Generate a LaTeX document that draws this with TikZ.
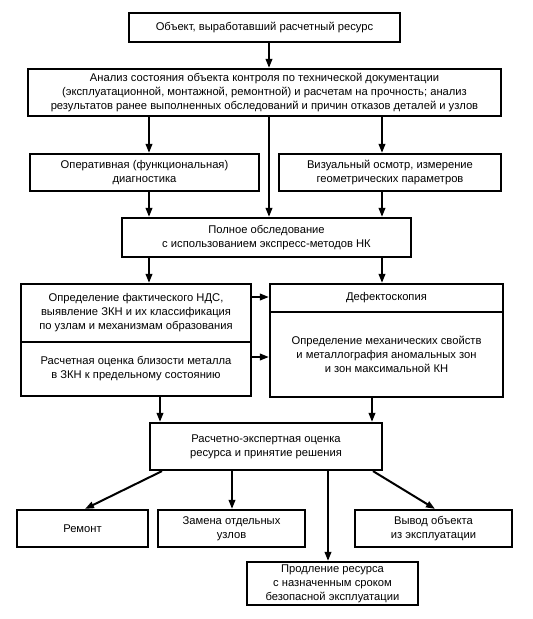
\documentclass[tikz,border=0pt]{standalone}
\usepackage{fontspec}
\setmainfont{Liberation Sans}
\usetikzlibrary{arrows.meta}
\begin{document}
\begin{tikzpicture}[x=1pt,y=-1pt,
  box/.style={draw, line width=2.2pt, align=center, inner sep=0pt,
    font=\fontsize{11.2}{14}\selectfont},
  arr/.style={line width=2pt, -{Triangle[length=9pt,width=6.5pt]}}]
\useasboundingbox (0,0) rectangle (533,619);
\node[box, minimum width=271, minimum height=29] (b1) at (264.5,27.5) {Объект, выработавший расчетный ресурс};
\node[box, minimum width=473, minimum height=47] (b2) at (264.5,92.5) {Анализ состояния объекта контроля по технической документации\\(эксплуатационной, монтажной, ремонтной) и расчетам на прочность; анализ\\результатов ранее выполненных обследований и причин отказов деталей и узлов};
\node[box, minimum width=229, minimum height=37] (b3a) at (144.5,172.5) {Оперативная (функциональная)\\диагностика};
\node[box, minimum width=222, minimum height=37] (b3b) at (390,172.5) {Визуальный осмотр, измерение\\геометрических параметров};
\node[box, minimum width=289, minimum height=39] (b4) at (266.5,237.5) {Полное обследование\\с использованием экспресс-методов НК};
\node[box, minimum width=230, minimum height=58] (b5a) at (136,313) {Определение фактического НДС,\\выявление ЗКН и их классификация\\по узлам и механизмам образования};
\node[box, minimum width=230, minimum height=54] (b5b) at (136,369) {Расчетная оценка близости металла\\в ЗКН к предельному состоянию};
\node[box, minimum width=233, minimum height=28] (b6a) at (386.5,298) {Дефектоскопия};
\node[box, minimum width=233, minimum height=85] (b6b) at (386.5,354.5) {Определение механических свойств\\и металлография аномальных зон\\и зон максимальной КН};
\node[box, minimum width=232, minimum height=47] (b7) at (266,446.5) {Расчетно-экспертная оценка\\ресурса и принятие решения};
\node[box, minimum width=131, minimum height=37] (r1) at (82.5,528.5) {Ремонт};
\node[box, minimum width=147, minimum height=37] (r2) at (231.5,528.5) {Замена отдельных\\узлов};
\node[box, minimum width=157, minimum height=37] (r3) at (433.5,528.5) {Вывод объекта\\из эксплуатации};
\node[box, minimum width=171, minimum height=43] (r4) at (332.5,583.5) {Продление ресурса\\с назначенным сроком\\безопасной эксплуатации};
\coordinate (cL) at (149,0);
\coordinate (cM) at (269,0);
\coordinate (cR) at (382,0);
\coordinate (dL) at (160,0);
\coordinate (dR) at (372,0);
\coordinate (h1) at (0,297);
\coordinate (h2) at (0,357);
\coordinate (e1) at (162,0);
\coordinate (e2) at (232,0);
\coordinate (e3) at (328,0);
\coordinate (e4) at (373,0);
\coordinate (t1) at (85,0);
\coordinate (t4) at (435,0);
\draw[arr] (b1.south -| cM) -- (b2.north -| cM);
\draw[arr] (b2.south -| cL) -- (b3a.north -| cL);
\draw[arr] (b2.south -| cR) -- (b3b.north -| cR);
\draw[arr] (b2.south -| cM) -- (b4.north -| cM);
\draw[arr] (b3a.south -| cL) -- (b4.north -| cL);
\draw[arr] (b3b.south -| cR) -- (b4.north -| cR);
\draw[arr] (b4.south -| cL) -- (b5a.north -| cL);
\draw[arr] (b4.south -| cR) -- (b6a.north -| cR);
\draw[arr] (b5a.east |- h1) -- (b6a.west |- h1);
\draw[arr] (b5b.east |- h2) -- (b6b.west |- h2);
\draw[arr] (b5b.south -| dL) -- (b7.north -| dL);
\draw[arr] (b6b.south -| dR) -- (b7.north -| dR);
\draw[arr] (b7.south -| e1) -- (r1.north -| t1);
\draw[arr] (b7.south -| e2) -- (r2.north -| e2);
\draw[arr] (b7.south -| e3) -- (r4.north -| e3);
\draw[arr] (b7.south -| e4) -- (r3.north -| t4);
\end{tikzpicture}
\end{document}
